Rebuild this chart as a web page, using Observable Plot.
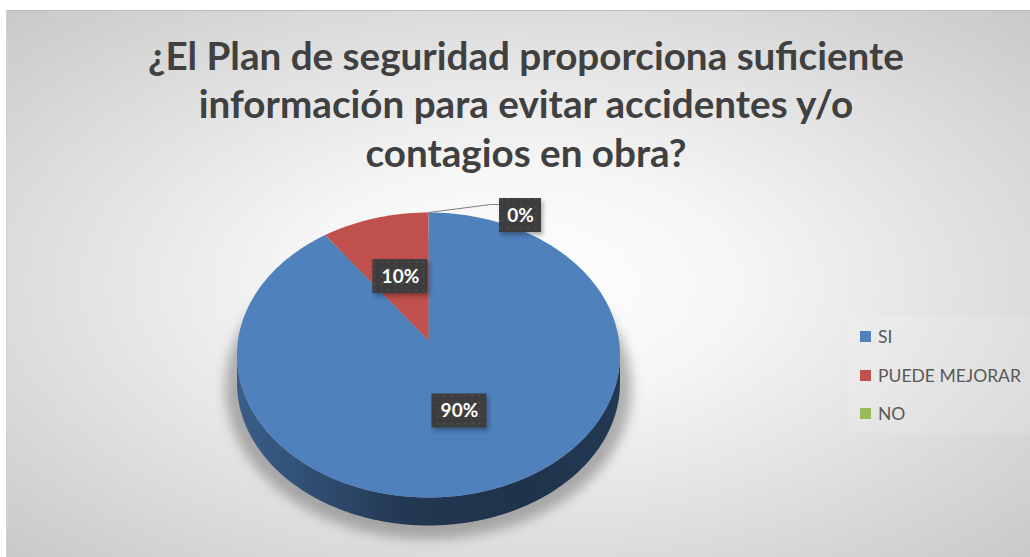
<!DOCTYPE html>
<html><head><meta charset="utf-8">
<script src="https://cdn.jsdelivr.net/npm/d3@7"></script>
<script src="https://cdn.jsdelivr.net/npm/@observablehq/plot@0.6"></script>
<style>
html,body{margin:0;padding:0;background:#fff;}
#wrap{position:relative;width:1030px;height:557px;overflow:hidden;font-family:Lato,"Open Sans",sans-serif;}
#bg{position:absolute;left:6px;top:10px;right:0;bottom:0;box-sizing:border-box;
  background:radial-gradient(ellipse farthest-corner at 50% 50%, #ffffff 0%, #f6f6f6 30%, #c9c9c9 100%);
  border-top:1px solid #bcbcbc;border-left:1px solid #d2d2d2;}
#chart{position:absolute;left:0;top:0;}
#title{position:absolute;left:0;width:1052px;text-align:center;font-weight:700;color:#404040;white-space:nowrap;}
#title div{display:block;}
#legbox{position:absolute;left:848px;top:317px;width:182px;height:116px;background:rgba(255,255,255,0.13);}
#legend{position:absolute;left:860px;top:0;font-size:17.5px;color:#595959;}
.li{position:absolute;left:0;height:20px;display:flex;align-items:center;white-space:nowrap;}
.sw{width:11px;height:11px;margin-right:7px;flex:none;}
</style></head>
<body>
<div id="wrap">
  <div id="bg"></div>
  <div id="legbox"></div>
  <div id="chart"></div>
  <div id="title"></div>
  <div id="legend"></div>
</div>
<script>
// ---- data ----
const categories = ["SI", "PUEDE MEJORAR", "NO"];
const values = [90, 10, 0];
const labelTexts = ["90%", "10%", "0%"];
const colors = ["#4f81bd", "#c0504d", "#9bbb59"];
const titleLines = ["¿El Plan de seguridad proporciona suficiente", "información para evitar accidentes y/o", "contagios en obra?"];

// ---- layout ----
const W = 1030, H = 557;
const G = {cx: 428, cy: 340, A: 190.5, B: 141, k: 0.1018, depth: 28};
function proj(a, f = 1, dz = 0) {
  const u = f * Math.sin(a), v = f * Math.cos(a);
  const d = 1 + G.k * v;
  return {x: G.cx + G.A * u / d, y: G.cy - G.B * v / d + dz};
}
function arcPts(s, e, f = 1, dz = 0) {
  const n = Math.max(2, Math.ceil(Math.abs(e - s) / 0.01));
  return d3.range(n + 1).map(i => proj(s + (e - s) * i / n, f, dz));
}

const data = categories.map((c, i) => ({category: c, value: values[i], label: labelTexts[i], color: colors[i], i}));
const arcs = d3.pie().sort(null).value(d => d.value)(data);
const total = d3.sum(values);

// top faces
const tops = arcs.filter(a => a.endAngle > a.startAngle).map(a => ({
  color: a.data.color,
  pts: [proj(0, 0), ...arcPts(a.startAngle, a.endAngle)]
}));
// sides (front visible part)
const lo = Math.acos(-G.k), hi = 2 * Math.PI - lo;
const sides = [];
arcs.forEach(a => {
  const s = Math.max(a.startAngle, lo), e = Math.min(a.endAngle, hi);
  if (e > s) sides.push({i: a.data.i, pts: [...arcPts(s, e, 1, 0), ...arcPts(e, s, 1, G.depth)]});
});
// shadow
const shadowPts = arcPts(0, 2 * Math.PI, 1.06, G.depth + 3);

// labels
const labels = arcs.map(a => {
  const mid = (a.startAngle + a.endAngle) / 2;
  const share = a.data.value / total;
  const w = 16 + 13 * a.data.label.length, h = 34;
  let p, leader = null;
  if (share < 0.05) {
    const rim = proj(mid, 1);
    p = {x: rim.x + 92, y: rim.y + 3};
    const xl = p.x - w / 2;
    leader = [rim, {x: xl - 9, y: p.y - 11}, {x: xl, y: p.y - 11}];
  } else {
    p = proj(mid, 0.5);
  }
  return {text: a.data.label, x: p.x, y: p.y, x1: p.x - w / 2, x2: p.x + w / 2, y1: p.y - h / 2, y2: p.y + h / 2, leader};
});

const marks = [
  Plot.line(shadowPts, {x: "x", y: "y", fill: "#6a6a6a", fillOpacity: 0.5, stroke: "none", ariaDescription: "pieshadow"}),
  ...sides.map(s => Plot.line(s.pts, {x: "x", y: "y", fill: `url(#side${s.i})`, stroke: "none"})),
  ...tops.map(t => Plot.line(t.pts, {x: "x", y: "y", fill: t.color, stroke: "none"})),
  ...labels.filter(l => l.leader).map(l => Plot.line(l.leader, {x: "x", y: "y", stroke: "#7f7f7f", strokeWidth: 1})),
  Plot.rect(labels, {x1: d => d.x1 + 2, x2: d => d.x2 + 2, y1: d => d.y1 + 3, y2: d => d.y2 + 3, fill: "#000", fillOpacity: 0.3, ariaDescription: "lblshadow"}),
  Plot.rect(labels, {x1: "x1", x2: "x2", y1: "y1", y2: "y2", fill: "url(#dots)"}),
  Plot.text(labels, {x: "x", y: "y", text: "text", fill: "#ffffff", fontSize: 19, fontWeight: "bold", fontFamily: "Lato, 'Open Sans', sans-serif", textAnchor: "middle", lineAnchor: "middle"})
];

const svg = Plot.plot({
  width: W, height: H, margin: 0,
  x: {domain: [0, W], range: [0, W], axis: null},
  y: {domain: [0, H], range: [0, H], axis: null},
  style: {background: "transparent", overflow: "visible"},
  marks
});

// defs: side gradients and label pattern
const defs = d3.select(svg).insert("defs", ":first-child");
colors.forEach((c, i) => {
  const g = defs.append("linearGradient").attr("id", `side${i}`).attr("gradientUnits", "userSpaceOnUse")
    .attr("x1", G.cx - G.A).attr("x2", G.cx + G.A).attr("y1", 0).attr("y2", 0);
  [[0, 0.9], [0.25, 1.6], [0.45, 2.4], [0.75, 2.6], [1, 2.3]].forEach(([o, k]) =>
    g.append("stop").attr("offset", o).attr("stop-color", d3.color(c).darker(k).formatHex()));
});
const pat = defs.append("pattern").attr("id", "dots").attr("patternUnits", "userSpaceOnUse").attr("width", 7).attr("height", 7);
pat.append("rect").attr("width", 7).attr("height", 7).attr("fill", "#3d3d3d");
pat.append("circle").attr("cx", 3.5).attr("cy", 3.5).attr("r", 1.1).attr("fill", "#4f4f4f");

d3.select(svg).selectAll('[aria-description="pieshadow"]').style("filter", "blur(6px)");
d3.select(svg).selectAll('[aria-description="lblshadow"]').style("filter", "blur(2px)");

document.getElementById("chart").appendChild(svg);

// title
const title = document.getElementById("title");
titleLines.forEach(t => { const d = document.createElement("div"); d.textContent = t; title.appendChild(d); });
let fs = 36;
title.style.fontSize = fs + "px";
const probe = document.createElement("span");
probe.style.cssText = "position:absolute;visibility:hidden;white-space:nowrap;font-weight:700;font-family:Lato,'Open Sans',sans-serif;font-size:100px";
probe.textContent = titleLines[0];
document.body.appendChild(probe);
const w100 = probe.getBoundingClientRect().width;
probe.remove();
fs = Math.max(28, Math.min(40, 100 * 756 / w100));
const L = 48.5;
title.style.fontSize = fs + "px";
title.style.lineHeight = L + "px";
title.style.top = (70 - ((L - 1.2 * fs) / 2 + 0.987 * fs)) + "px";

// legend
const legend = document.getElementById("legend");
const legY = [336.5, 375, 413];
categories.forEach((c, i) => {
  const it = document.createElement("div");
  it.className = "li";
  it.style.top = (legY[i] - 10) + "px";
  const sw = document.createElement("span"); sw.className = "sw"; sw.style.background = colors[i];
  const tx = document.createElement("span"); tx.textContent = c;
  it.appendChild(sw); it.appendChild(tx);
  legend.appendChild(it);
});
</script>
</body></html>
